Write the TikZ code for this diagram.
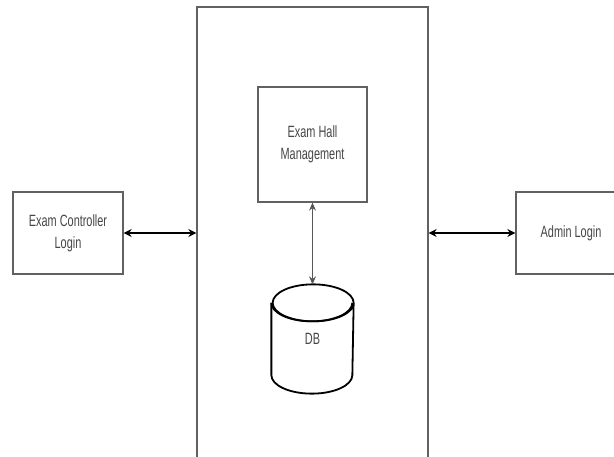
\documentclass[tikz,border=0pt]{standalone}
\usepackage{fontspec}
\newfontfamily\narrowsans[FakeStretch=0.67]{Liberation Sans}
\usetikzlibrary{arrows.meta}
\colorlet{boxline}{black!62}
\colorlet{boxtext}{black!72}
\tikzset{
  block/.style={draw=boxline, line width=1.3pt, align=center, text=boxtext,
    font=\narrowsans\fontsize{16.3}{22}\selectfont},
  link/.style={line width=1.4pt, {Stealth[length=8pt,width=8pt]}-{Stealth[length=8pt,width=8pt]}},
  dblink/.style={draw=black!65, line width=1.1pt, {Stealth[length=8pt,width=7pt,fill=black!80]}-{Stealth[length=8pt,width=7pt,fill=black!80]}},
  dbline/.style={line width=1.8pt}
}

\begin{document}
\begin{tikzpicture}[x=1pt,y=-1pt]
\useasboundingbox (0,0) rectangle (614,457);
\clip (0,0) rectangle (614,457);
\fill[white] (0,0) rectangle (614,457);
\node[block, minimum width=231pt, minimum height=463pt] (sys) at (312.5,238.5) {};
\node[block, minimum width=109pt, minimum height=115pt] (hall) at (312.5,144.5) {Exam Hall\\Management};
\node[block, minimum width=110pt, minimum height=82pt] (ctrl) at (68,233) {Exam Controller\\Login};
\node[block, minimum width=110pt, minimum height=82pt] (admin) at (571,233) {Admin Login};
\node[block, draw=none, minimum width=81pt, minimum height=108pt] (db) at (312.5,339) {DB};
% cylinder
\draw[dbline] ([yshift=-18.5pt]db.north west) -- ([yshift=18.5pt]db.south west)
  arc[start angle=180, end angle=360, x radius=40.5pt, y radius=18.5pt]
  -- ([yshift=-18.5pt]db.north east)
  arc[start angle=0, end angle=360, x radius=40.5pt, y radius=18.5pt];
\draw[dbline] ([yshift=-18.5pt]db.north west)
  arc[start angle=180, end angle=360, x radius=40.5pt, y radius=18.5pt];
% links
\draw[link] (ctrl.east) -- (ctrl.east -| sys.west);
\draw[link] (admin.west) -- (admin.west -| sys.east);
\draw[dblink] (hall.south) -- (db.north);
\end{tikzpicture}
\end{document}
